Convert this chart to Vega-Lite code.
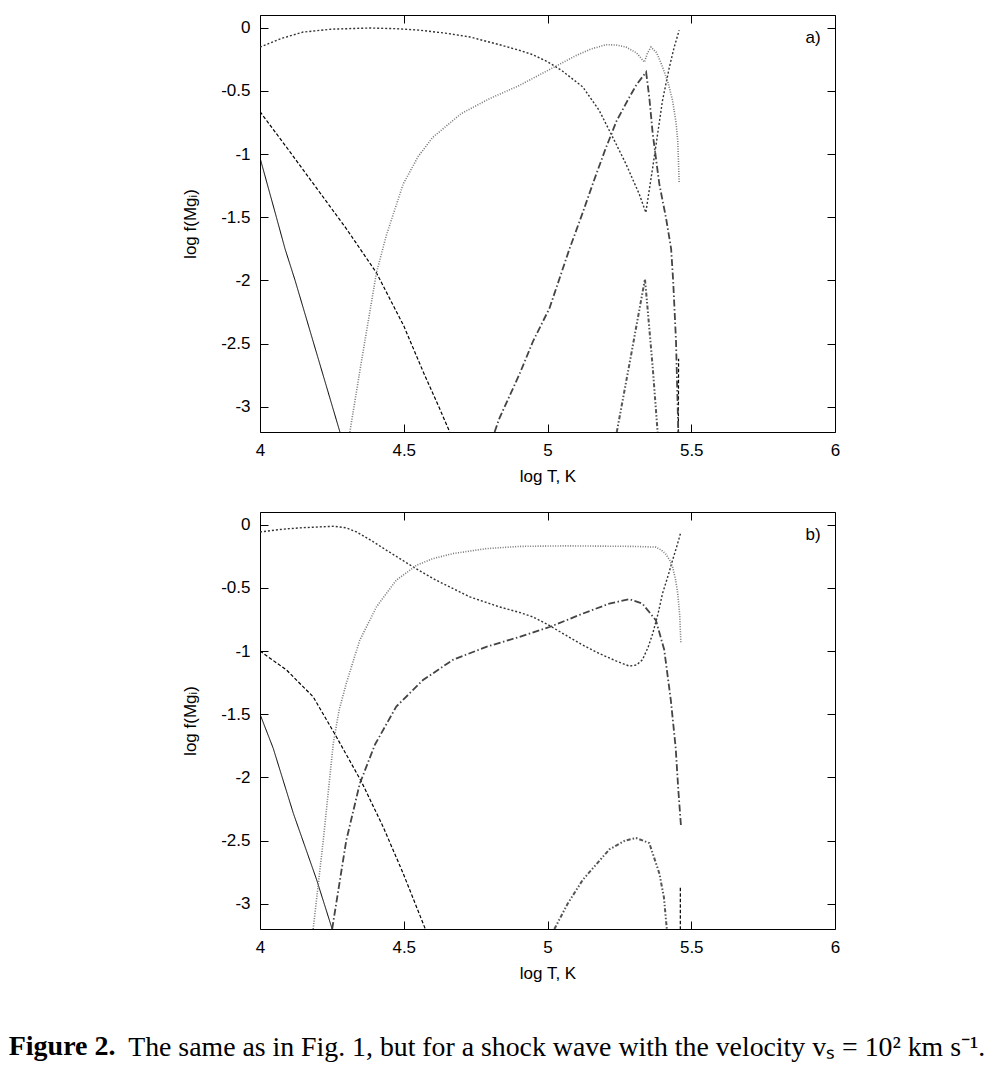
{
  "$schema": "https://vega.github.io/schema/vega-lite/v6.json",
  "background": "white",
  "padding": {"left": 8, "top": 14, "right": 5, "bottom": 5},
  "spacing": 26,
  "title": {
    "text": "The same as in Fig. 1, but for a shock wave with the velocity v\u209b = 10\u00b2 km s\u207b\u00b9.",
    "orient": "bottom",
    "anchor": "start",
    "frame": "bounds",
    "offset": -28,
    "dx": 120,
    "font": "Liberation Serif",
    "fontSize": 27.8,
    "fontWeight": "normal",
    "color": "#000000"
  },
  "datasets": {
    "curves": [
      {"p":"a","ion":"Mg I","s":"a-I","i":0,"T":4.0,"f":-1.03},
      {"p":"a","ion":"Mg I","s":"a-I","i":1,"T":4.057,"f":-1.5},
      {"p":"a","ion":"Mg I","s":"a-I","i":2,"T":4.087,"f":-1.75},
      {"p":"a","ion":"Mg I","s":"a-I","i":3,"T":4.122,"f":-2.0},
      {"p":"a","ion":"Mg I","s":"a-I","i":4,"T":4.2,"f":-2.6},
      {"p":"a","ion":"Mg I","s":"a-I","i":5,"T":4.278,"f":-3.2},

      {"p":"a","ion":"Mg II","s":"a-II","i":0,"T":4.0,"f":-0.665},
      {"p":"a","ion":"Mg II","s":"a-II","i":1,"T":4.1,"f":-0.97},
      {"p":"a","ion":"Mg II","s":"a-II","i":2,"T":4.2,"f":-1.28},
      {"p":"a","ion":"Mg II","s":"a-II","i":3,"T":4.3,"f":-1.59},
      {"p":"a","ion":"Mg II","s":"a-II","i":4,"T":4.405,"f":-1.94},
      {"p":"a","ion":"Mg II","s":"a-II","i":5,"T":4.5,"f":-2.36},
      {"p":"a","ion":"Mg II","s":"a-II","i":6,"T":4.567,"f":-2.72},
      {"p":"a","ion":"Mg II","s":"a-II","i":7,"T":4.62,"f":-2.99},
      {"p":"a","ion":"Mg II","s":"a-II","i":8,"T":4.66,"f":-3.2},
      {"p":"a","ion":"Mg II","s":"a-II2","i":0,"T":5.455,"f":-3.25},
      {"p":"a","ion":"Mg II","s":"a-II2","i":1,"T":5.456,"f":-2.62},

      {"p":"a","ion":"Mg III","s":"a-III","i":0,"T":4.0,"f":-0.155},
      {"p":"a","ion":"Mg III","s":"a-III","i":1,"T":4.075,"f":-0.085},
      {"p":"a","ion":"Mg III","s":"a-III","i":2,"T":4.15,"f":-0.035},
      {"p":"a","ion":"Mg III","s":"a-III","i":3,"T":4.25,"f":-0.012},
      {"p":"a","ion":"Mg III","s":"a-III","i":4,"T":4.38,"f":-0.003},
      {"p":"a","ion":"Mg III","s":"a-III","i":5,"T":4.47,"f":-0.008},
      {"p":"a","ion":"Mg III","s":"a-III","i":6,"T":4.555,"f":-0.02},
      {"p":"a","ion":"Mg III","s":"a-III","i":7,"T":4.65,"f":-0.045},
      {"p":"a","ion":"Mg III","s":"a-III","i":8,"T":4.73,"f":-0.074},
      {"p":"a","ion":"Mg III","s":"a-III","i":9,"T":4.833,"f":-0.135},
      {"p":"a","ion":"Mg III","s":"a-III","i":10,"T":4.903,"f":-0.18},
      {"p":"a","ion":"Mg III","s":"a-III","i":11,"T":4.95,"f":-0.215},
      {"p":"a","ion":"Mg III","s":"a-III","i":12,"T":5.0,"f":-0.27},
      {"p":"a","ion":"Mg III","s":"a-III","i":13,"T":5.05,"f":-0.34},
      {"p":"a","ion":"Mg III","s":"a-III","i":14,"T":5.123,"f":-0.47},
      {"p":"a","ion":"Mg III","s":"a-III","i":15,"T":5.18,"f":-0.656},
      {"p":"a","ion":"Mg III","s":"a-III","i":16,"T":5.227,"f":-0.868},
      {"p":"a","ion":"Mg III","s":"a-III","i":17,"T":5.273,"f":-1.079},
      {"p":"a","ion":"Mg III","s":"a-III","i":18,"T":5.319,"f":-1.317},
      {"p":"a","ion":"Mg III","s":"a-III","i":19,"T":5.342,"f":-1.463},
      {"p":"a","ion":"Mg III","s":"a-III","i":20,"T":5.366,"f":-1.106},
      {"p":"a","ion":"Mg III","s":"a-III","i":21,"T":5.4,"f":-0.577},
      {"p":"a","ion":"Mg III","s":"a-III","i":22,"T":5.424,"f":-0.312},
      {"p":"a","ion":"Mg III","s":"a-III","i":23,"T":5.44,"f":-0.16},
      {"p":"a","ion":"Mg III","s":"a-III","i":24,"T":5.458,"f":-0.021},

      {"p":"a","ion":"Mg IV","s":"a-IV","i":0,"T":4.3125,"f":-3.2},
      {"p":"a","ion":"Mg IV","s":"a-IV","i":1,"T":4.35,"f":-2.68},
      {"p":"a","ion":"Mg IV","s":"a-IV","i":2,"T":4.405,"f":-1.94},
      {"p":"a","ion":"Mg IV","s":"a-IV","i":3,"T":4.44,"f":-1.64},
      {"p":"a","ion":"Mg IV","s":"a-IV","i":4,"T":4.498,"f":-1.238},
      {"p":"a","ion":"Mg IV","s":"a-IV","i":5,"T":4.55,"f":-1.02},
      {"p":"a","ion":"Mg IV","s":"a-IV","i":6,"T":4.6,"f":-0.87},
      {"p":"a","ion":"Mg IV","s":"a-IV","i":7,"T":4.7,"f":-0.68},
      {"p":"a","ion":"Mg IV","s":"a-IV","i":8,"T":4.8,"f":-0.56},
      {"p":"a","ion":"Mg IV","s":"a-IV","i":9,"T":4.9,"f":-0.46},
      {"p":"a","ion":"Mg IV","s":"a-IV","i":10,"T":5.0,"f":-0.34},
      {"p":"a","ion":"Mg IV","s":"a-IV","i":11,"T":5.05,"f":-0.28},
      {"p":"a","ion":"Mg IV","s":"a-IV","i":12,"T":5.1,"f":-0.22},
      {"p":"a","ion":"Mg IV","s":"a-IV","i":13,"T":5.15,"f":-0.17},
      {"p":"a","ion":"Mg IV","s":"a-IV","i":14,"T":5.204,"f":-0.135},
      {"p":"a","ion":"Mg IV","s":"a-IV","i":15,"T":5.24,"f":-0.138},
      {"p":"a","ion":"Mg IV","s":"a-IV","i":16,"T":5.273,"f":-0.154},
      {"p":"a","ion":"Mg IV","s":"a-IV","i":17,"T":5.31,"f":-0.2},
      {"p":"a","ion":"Mg IV","s":"a-IV","i":18,"T":5.337,"f":-0.273},
      {"p":"a","ion":"Mg IV","s":"a-IV","i":19,"T":5.348,"f":-0.2},
      {"p":"a","ion":"Mg IV","s":"a-IV","i":20,"T":5.36,"f":-0.154},
      {"p":"a","ion":"Mg IV","s":"a-IV","i":21,"T":5.38,"f":-0.2},
      {"p":"a","ion":"Mg IV","s":"a-IV","i":22,"T":5.4,"f":-0.31},
      {"p":"a","ion":"Mg IV","s":"a-IV","i":23,"T":5.42,"f":-0.44},
      {"p":"a","ion":"Mg IV","s":"a-IV","i":24,"T":5.435,"f":-0.577},
      {"p":"a","ion":"Mg IV","s":"a-IV","i":25,"T":5.447,"f":-0.75},
      {"p":"a","ion":"Mg IV","s":"a-IV","i":26,"T":5.453,"f":-0.894},
      {"p":"a","ion":"Mg IV","s":"a-IV","i":27,"T":5.458,"f":-1.225},

      {"p":"a","ion":"Mg V","s":"a-V","i":0,"T":4.816,"f":-3.2},
      {"p":"a","ion":"Mg V","s":"a-V","i":1,"T":4.833,"f":-3.09},
      {"p":"a","ion":"Mg V","s":"a-V","i":2,"T":4.903,"f":-2.74},
      {"p":"a","ion":"Mg V","s":"a-V","i":3,"T":4.95,"f":-2.48},
      {"p":"a","ion":"Mg V","s":"a-V","i":4,"T":5.007,"f":-2.22},
      {"p":"a","ion":"Mg V","s":"a-V","i":5,"T":5.076,"f":-1.754},
      {"p":"a","ion":"Mg V","s":"a-V","i":6,"T":5.12,"f":-1.48},
      {"p":"a","ion":"Mg V","s":"a-V","i":7,"T":5.16,"f":-1.22},
      {"p":"a","ion":"Mg V","s":"a-V","i":8,"T":5.2,"f":-0.97},
      {"p":"a","ion":"Mg V","s":"a-V","i":9,"T":5.24,"f":-0.74},
      {"p":"a","ion":"Mg V","s":"a-V","i":10,"T":5.28,"f":-0.57},
      {"p":"a","ion":"Mg V","s":"a-V","i":11,"T":5.31,"f":-0.45},
      {"p":"a","ion":"Mg V","s":"a-V","i":12,"T":5.343,"f":-0.352},
      {"p":"a","ion":"Mg V","s":"a-V","i":13,"T":5.354,"f":-0.55},
      {"p":"a","ion":"Mg V","s":"a-V","i":14,"T":5.366,"f":-0.84},
      {"p":"a","ion":"Mg V","s":"a-V","i":15,"T":5.389,"f":-1.238},
      {"p":"a","ion":"Mg V","s":"a-V","i":16,"T":5.412,"f":-1.503},
      {"p":"a","ion":"Mg V","s":"a-V","i":17,"T":5.43,"f":-1.75},
      {"p":"a","ion":"Mg V","s":"a-V","i":18,"T":5.437,"f":-2.0},
      {"p":"a","ion":"Mg V","s":"a-V","i":19,"T":5.447,"f":-2.48},
      {"p":"a","ion":"Mg V","s":"a-V","i":20,"T":5.455,"f":-3.2},

      {"p":"a","ion":"Mg VI","s":"a-VI","i":0,"T":5.241,"f":-3.2},
      {"p":"a","ion":"Mg VI","s":"a-VI","i":1,"T":5.29,"f":-2.6},
      {"p":"a","ion":"Mg VI","s":"a-VI","i":2,"T":5.339,"f":-1.99},
      {"p":"a","ion":"Mg VI","s":"a-VI","i":3,"T":5.348,"f":-2.22},
      {"p":"a","ion":"Mg VI","s":"a-VI","i":4,"T":5.366,"f":-2.69},
      {"p":"a","ion":"Mg VI","s":"a-VI","i":5,"T":5.383,"f":-3.2},

      {"p":"b","ion":"Mg I","s":"b-I","i":0,"T":4.0,"f":-1.5},
      {"p":"b","ion":"Mg I","s":"b-I","i":1,"T":4.046,"f":-1.77},
      {"p":"b","ion":"Mg I","s":"b-I","i":2,"T":4.116,"f":-2.285},
      {"p":"b","ion":"Mg I","s":"b-I","i":3,"T":4.197,"f":-2.81},
      {"p":"b","ion":"Mg I","s":"b-I","i":4,"T":4.251,"f":-3.2},

      {"p":"b","ion":"Mg II","s":"b-II","i":0,"T":4.0,"f":-1.0},
      {"p":"b","ion":"Mg II","s":"b-II","i":1,"T":4.093,"f":-1.152},
      {"p":"b","ion":"Mg II","s":"b-II","i":2,"T":4.185,"f":-1.363},
      {"p":"b","ion":"Mg II","s":"b-II","i":3,"T":4.266,"f":-1.68},
      {"p":"b","ion":"Mg II","s":"b-II","i":4,"T":4.353,"f":-2.035},
      {"p":"b","ion":"Mg II","s":"b-II","i":5,"T":4.428,"f":-2.39},
      {"p":"b","ion":"Mg II","s":"b-II","i":6,"T":4.498,"f":-2.76},
      {"p":"b","ion":"Mg II","s":"b-II","i":7,"T":4.575,"f":-3.2},
      {"p":"b","ion":"Mg II","s":"b-II2","i":0,"T":5.462,"f":-3.25},
      {"p":"b","ion":"Mg II","s":"b-II2","i":1,"T":5.462,"f":-2.865},

      {"p":"b","ion":"Mg III","s":"b-III","i":0,"T":4.0,"f":-0.058},
      {"p":"b","ion":"Mg III","s":"b-III","i":1,"T":4.08,"f":-0.036},
      {"p":"b","ion":"Mg III","s":"b-III","i":2,"T":4.15,"f":-0.024},
      {"p":"b","ion":"Mg III","s":"b-III","i":3,"T":4.255,"f":-0.013},
      {"p":"b","ion":"Mg III","s":"b-III","i":4,"T":4.3,"f":-0.025},
      {"p":"b","ion":"Mg III","s":"b-III","i":5,"T":4.336,"f":-0.058},
      {"p":"b","ion":"Mg III","s":"b-III","i":6,"T":4.39,"f":-0.13},
      {"p":"b","ion":"Mg III","s":"b-III","i":7,"T":4.44,"f":-0.203},
      {"p":"b","ion":"Mg III","s":"b-III","i":8,"T":4.533,"f":-0.335},
      {"p":"b","ion":"Mg III","s":"b-III","i":9,"T":4.613,"f":-0.44},
      {"p":"b","ion":"Mg III","s":"b-III","i":10,"T":4.73,"f":-0.572},
      {"p":"b","ion":"Mg III","s":"b-III","i":11,"T":4.833,"f":-0.651},
      {"p":"b","ion":"Mg III","s":"b-III","i":12,"T":4.903,"f":-0.695},
      {"p":"b","ion":"Mg III","s":"b-III","i":13,"T":4.949,"f":-0.73},
      {"p":"b","ion":"Mg III","s":"b-III","i":14,"T":5.0,"f":-0.79},
      {"p":"b","ion":"Mg III","s":"b-III","i":15,"T":5.064,"f":-0.875},
      {"p":"b","ion":"Mg III","s":"b-III","i":16,"T":5.12,"f":-0.95},
      {"p":"b","ion":"Mg III","s":"b-III","i":17,"T":5.18,"f":-1.02},
      {"p":"b","ion":"Mg III","s":"b-III","i":18,"T":5.24,"f":-1.08},
      {"p":"b","ion":"Mg III","s":"b-III","i":19,"T":5.285,"f":-1.12},
      {"p":"b","ion":"Mg III","s":"b-III","i":20,"T":5.31,"f":-1.11},
      {"p":"b","ion":"Mg III","s":"b-III","i":21,"T":5.33,"f":-1.07},
      {"p":"b","ion":"Mg III","s":"b-III","i":22,"T":5.35,"f":-0.97},
      {"p":"b","ion":"Mg III","s":"b-III","i":23,"T":5.366,"f":-0.862},
      {"p":"b","ion":"Mg III","s":"b-III","i":24,"T":5.385,"f":-0.7},
      {"p":"b","ion":"Mg III","s":"b-III","i":25,"T":5.4,"f":-0.545},
      {"p":"b","ion":"Mg III","s":"b-III","i":26,"T":5.42,"f":-0.4},
      {"p":"b","ion":"Mg III","s":"b-III","i":27,"T":5.435,"f":-0.282},
      {"p":"b","ion":"Mg III","s":"b-III","i":28,"T":5.45,"f":-0.17},
      {"p":"b","ion":"Mg III","s":"b-III","i":29,"T":5.464,"f":-0.058},

      {"p":"b","ion":"Mg IV","s":"b-IV","i":0,"T":4.185,"f":-3.2},
      {"p":"b","ion":"Mg IV","s":"b-IV","i":1,"T":4.22,"f":-2.5},
      {"p":"b","ion":"Mg IV","s":"b-IV","i":2,"T":4.255,"f":-1.73},
      {"p":"b","ion":"Mg IV","s":"b-IV","i":3,"T":4.275,"f":-1.47},
      {"p":"b","ion":"Mg IV","s":"b-IV","i":4,"T":4.3,"f":-1.257},
      {"p":"b","ion":"Mg IV","s":"b-IV","i":5,"T":4.347,"f":-0.915},
      {"p":"b","ion":"Mg IV","s":"b-IV","i":6,"T":4.405,"f":-0.651},
      {"p":"b","ion":"Mg IV","s":"b-IV","i":7,"T":4.474,"f":-0.44},
      {"p":"b","ion":"Mg IV","s":"b-IV","i":8,"T":4.544,"f":-0.322},
      {"p":"b","ion":"Mg IV","s":"b-IV","i":9,"T":4.6,"f":-0.27},
      {"p":"b","ion":"Mg IV","s":"b-IV","i":10,"T":4.671,"f":-0.229},
      {"p":"b","ion":"Mg IV","s":"b-IV","i":11,"T":4.787,"f":-0.19},
      {"p":"b","ion":"Mg IV","s":"b-IV","i":12,"T":4.903,"f":-0.172},
      {"p":"b","ion":"Mg IV","s":"b-IV","i":13,"T":5.064,"f":-0.168},
      {"p":"b","ion":"Mg IV","s":"b-IV","i":14,"T":5.296,"f":-0.172},
      {"p":"b","ion":"Mg IV","s":"b-IV","i":15,"T":5.377,"f":-0.178},
      {"p":"b","ion":"Mg IV","s":"b-IV","i":16,"T":5.395,"f":-0.2},
      {"p":"b","ion":"Mg IV","s":"b-IV","i":17,"T":5.41,"f":-0.229},
      {"p":"b","ion":"Mg IV","s":"b-IV","i":18,"T":5.425,"f":-0.28},
      {"p":"b","ion":"Mg IV","s":"b-IV","i":19,"T":5.435,"f":-0.335},
      {"p":"b","ion":"Mg IV","s":"b-IV","i":20,"T":5.445,"f":-0.43},
      {"p":"b","ion":"Mg IV","s":"b-IV","i":21,"T":5.453,"f":-0.545},
      {"p":"b","ion":"Mg IV","s":"b-IV","i":22,"T":5.46,"f":-0.72},
      {"p":"b","ion":"Mg IV","s":"b-IV","i":23,"T":5.464,"f":-0.94},

      {"p":"b","ion":"Mg V","s":"b-V","i":0,"T":4.251,"f":-3.2},
      {"p":"b","ion":"Mg V","s":"b-V","i":1,"T":4.3,"f":-2.5},
      {"p":"b","ion":"Mg V","s":"b-V","i":2,"T":4.347,"f":-2.05},
      {"p":"b","ion":"Mg V","s":"b-V","i":3,"T":4.4,"f":-1.74},
      {"p":"b","ion":"Mg V","s":"b-V","i":4,"T":4.474,"f":-1.44},
      {"p":"b","ion":"Mg V","s":"b-V","i":5,"T":4.567,"f":-1.23},
      {"p":"b","ion":"Mg V","s":"b-V","i":6,"T":4.671,"f":-1.07},
      {"p":"b","ion":"Mg V","s":"b-V","i":7,"T":4.787,"f":-0.967},
      {"p":"b","ion":"Mg V","s":"b-V","i":8,"T":4.903,"f":-0.888},
      {"p":"b","ion":"Mg V","s":"b-V","i":9,"T":5.007,"f":-0.81},
      {"p":"b","ion":"Mg V","s":"b-V","i":10,"T":5.123,"f":-0.704},
      {"p":"b","ion":"Mg V","s":"b-V","i":11,"T":5.215,"f":-0.625},
      {"p":"b","ion":"Mg V","s":"b-V","i":12,"T":5.285,"f":-0.59},
      {"p":"b","ion":"Mg V","s":"b-V","i":13,"T":5.33,"f":-0.625},
      {"p":"b","ion":"Mg V","s":"b-V","i":14,"T":5.377,"f":-0.757},
      {"p":"b","ion":"Mg V","s":"b-V","i":15,"T":5.406,"f":-0.99},
      {"p":"b","ion":"Mg V","s":"b-V","i":16,"T":5.429,"f":-1.39},
      {"p":"b","ion":"Mg V","s":"b-V","i":17,"T":5.446,"f":-1.77},
      {"p":"b","ion":"Mg V","s":"b-V","i":18,"T":5.455,"f":-2.1},
      {"p":"b","ion":"Mg V","s":"b-V","i":19,"T":5.464,"f":-2.377},

      {"p":"b","ion":"Mg VI","s":"b-VI","i":0,"T":5.024,"f":-3.2},
      {"p":"b","ion":"Mg VI","s":"b-VI","i":1,"T":5.07,"f":-3.0},
      {"p":"b","ion":"Mg VI","s":"b-VI","i":2,"T":5.123,"f":-2.81},
      {"p":"b","ion":"Mg VI","s":"b-VI","i":3,"T":5.215,"f":-2.57},
      {"p":"b","ion":"Mg VI","s":"b-VI","i":4,"T":5.27,"f":-2.5},
      {"p":"b","ion":"Mg VI","s":"b-VI","i":5,"T":5.308,"f":-2.48},
      {"p":"b","ion":"Mg VI","s":"b-VI","i":6,"T":5.354,"f":-2.52},
      {"p":"b","ion":"Mg VI","s":"b-VI","i":7,"T":5.389,"f":-2.76},
      {"p":"b","ion":"Mg VI","s":"b-VI","i":8,"T":5.405,"f":-2.95},
      {"p":"b","ion":"Mg VI","s":"b-VI","i":9,"T":5.415,"f":-3.2}
    ],
    "labels": [
      {"p":"a","T":5.95,"f":-0.08,"label":"a)"},
      {"p":"b","T":5.95,"f":-0.08,"label":"b)"}
    ]
  },
  "vconcat": [
    {
      "width": 575,
      "height": 417,
      "layer": [
        {
          "data": {"name": "curves"},
          "transform": [{"filter": "datum.p == 'a'"}],
          "mark": {"type": "line", "clip": true},
          "encoding": {
            "x": {"field": "T", "type": "quantitative", "scale": {"domain": [4, 6], "nice": false, "zero": false},
                  "axis": {"orient": "bottom", "values": [4, 4.5, 5, 5.5, 6], "labelExpr": "toString(datum.value)", "title": "log T, K", "titlePadding": 10}},
            "y": {"field": "f", "type": "quantitative", "scale": {"domain": [-3.2, 0.1], "nice": false, "zero": false},
                  "axis": {"orient": "left", "values": [0, -0.5, -1, -1.5, -2, -2.5, -3], "labelExpr": "toString(datum.value)", "title": "log f(Mg\u1d62)", "titlePadding": 21}},
            "detail": {"field": "s", "type": "nominal"},
            "order": {"field": "i", "type": "quantitative"},
            "color": {"field": "ion", "type": "nominal", "legend": null,
                      "scale": {"domain": ["Mg I","Mg II","Mg III","Mg IV","Mg V","Mg VI"], "range": ["#000000","#000000","#333333","#777777","#444444","#555555"]}},
            "strokeDash": {"field": "ion", "type": "nominal", "legend": null,
                      "scale": {"domain": ["Mg I","Mg II","Mg III","Mg IV","Mg V","Mg VI"], "range": [[1,0],[3.5,2],[2,2],[1,1.5],[7,2.5,1.5,2.5],[4,2,1.5,2,1.5,2]]}},
            "strokeWidth": {"field": "ion", "type": "ordinal", "legend": null,
                      "scale": {"domain": ["Mg I","Mg II","Mg III","Mg IV","Mg V","Mg VI"], "range": [1, 2, 1, 1, 1, 1]}}
          }
        },
        {
          "data": {"name": "labels"},
          "transform": [{"filter": "datum.p == 'a'"}],
          "mark": {"type": "text", "align": "right", "baseline": "middle", "font": "Liberation Sans", "fontSize": 17, "color": "#000000"},
          "encoding": {
            "x": {"field": "T", "type": "quantitative", "scale": {"domain": [4, 6], "nice": false, "zero": false},
                  "axis": {"orient": "top", "values": [4, 4.5, 5, 5.5, 6], "labels": false, "title": null}},
            "y": {"field": "f", "type": "quantitative", "scale": {"domain": [-3.2, 0.1], "nice": false, "zero": false},
                  "axis": {"orient": "right", "values": [0, -0.5, -1, -1.5, -2, -2.5, -3], "labels": false, "title": null}},
            "text": {"field": "label", "type": "nominal"}
          }
        }
      ],
      "resolve": {"axis": {"x": "independent", "y": "independent"}}
    },
    {
      "width": 575,
      "height": 417,
      "title": {
        "text": "Figure 2.",
        "orient": "bottom",
        "anchor": "start",
        "frame": "bounds",
        "offset": 52,
        "dx": -173,
        "font": "Liberation Serif",
        "fontSize": 28,
        "fontWeight": "bold",
        "color": "#000000"
      },
      "layer": [
        {
          "data": {"name": "curves"},
          "transform": [{"filter": "datum.p == 'b'"}],
          "mark": {"type": "line", "clip": true},
          "encoding": {
            "x": {"field": "T", "type": "quantitative", "scale": {"domain": [4, 6], "nice": false, "zero": false},
                  "axis": {"orient": "bottom", "values": [4, 4.5, 5, 5.5, 6], "labelExpr": "toString(datum.value)", "title": "log T, K", "titlePadding": 10}},
            "y": {"field": "f", "type": "quantitative", "scale": {"domain": [-3.2, 0.1], "nice": false, "zero": false},
                  "axis": {"orient": "left", "values": [0, -0.5, -1, -1.5, -2, -2.5, -3], "labelExpr": "toString(datum.value)", "title": "log f(Mg\u1d62)", "titlePadding": 21}},
            "detail": {"field": "s", "type": "nominal"},
            "order": {"field": "i", "type": "quantitative"},
            "color": {"field": "ion", "type": "nominal", "legend": null,
                      "scale": {"domain": ["Mg I","Mg II","Mg III","Mg IV","Mg V","Mg VI"], "range": ["#000000","#000000","#333333","#777777","#444444","#555555"]}},
            "strokeDash": {"field": "ion", "type": "nominal", "legend": null,
                      "scale": {"domain": ["Mg I","Mg II","Mg III","Mg IV","Mg V","Mg VI"], "range": [[1,0],[3.5,2],[2,2],[1,1.5],[7,2.5,1.5,2.5],[4,2,1.5,2,1.5,2]]}},
            "strokeWidth": {"field": "ion", "type": "ordinal", "legend": null,
                      "scale": {"domain": ["Mg I","Mg II","Mg III","Mg IV","Mg V","Mg VI"], "range": [1, 2, 1, 1, 1, 1]}}
          }
        },
        {
          "data": {"name": "labels"},
          "transform": [{"filter": "datum.p == 'b'"}],
          "mark": {"type": "text", "align": "right", "baseline": "middle", "font": "Liberation Sans", "fontSize": 17, "color": "#000000"},
          "encoding": {
            "x": {"field": "T", "type": "quantitative", "scale": {"domain": [4, 6], "nice": false, "zero": false},
                  "axis": {"orient": "top", "values": [4, 4.5, 5, 5.5, 6], "labels": false, "title": null}},
            "y": {"field": "f", "type": "quantitative", "scale": {"domain": [-3.2, 0.1], "nice": false, "zero": false},
                  "axis": {"orient": "right", "values": [0, -0.5, -1, -1.5, -2, -2.5, -3], "labels": false, "title": null}},
            "text": {"field": "label", "type": "nominal"}
          }
        }
      ],
      "resolve": {"axis": {"x": "independent", "y": "independent"}}
    }
  ],
  "config": {
    "view": {"stroke": "#000000", "strokeWidth": 1},
    "axis": {
      "grid": false,
      "domain": false,
      "ticks": true,
      "tickColor": "#000000",
      "tickSize": -8,
      "tickWidth": 1,
      "labelFont": "Liberation Sans",
      "labelFontSize": 17,
      "labelColor": "#000000",
      "labelPadding": 18,
      "labelFlush": false,
      "labelBound": false,
      "labelOverlap": false,
      "titleFont": "Liberation Sans",
      "titleFontSize": 17,
      "titleFontWeight": "normal",
      "titleColor": "#000000"
    }
  }
}
